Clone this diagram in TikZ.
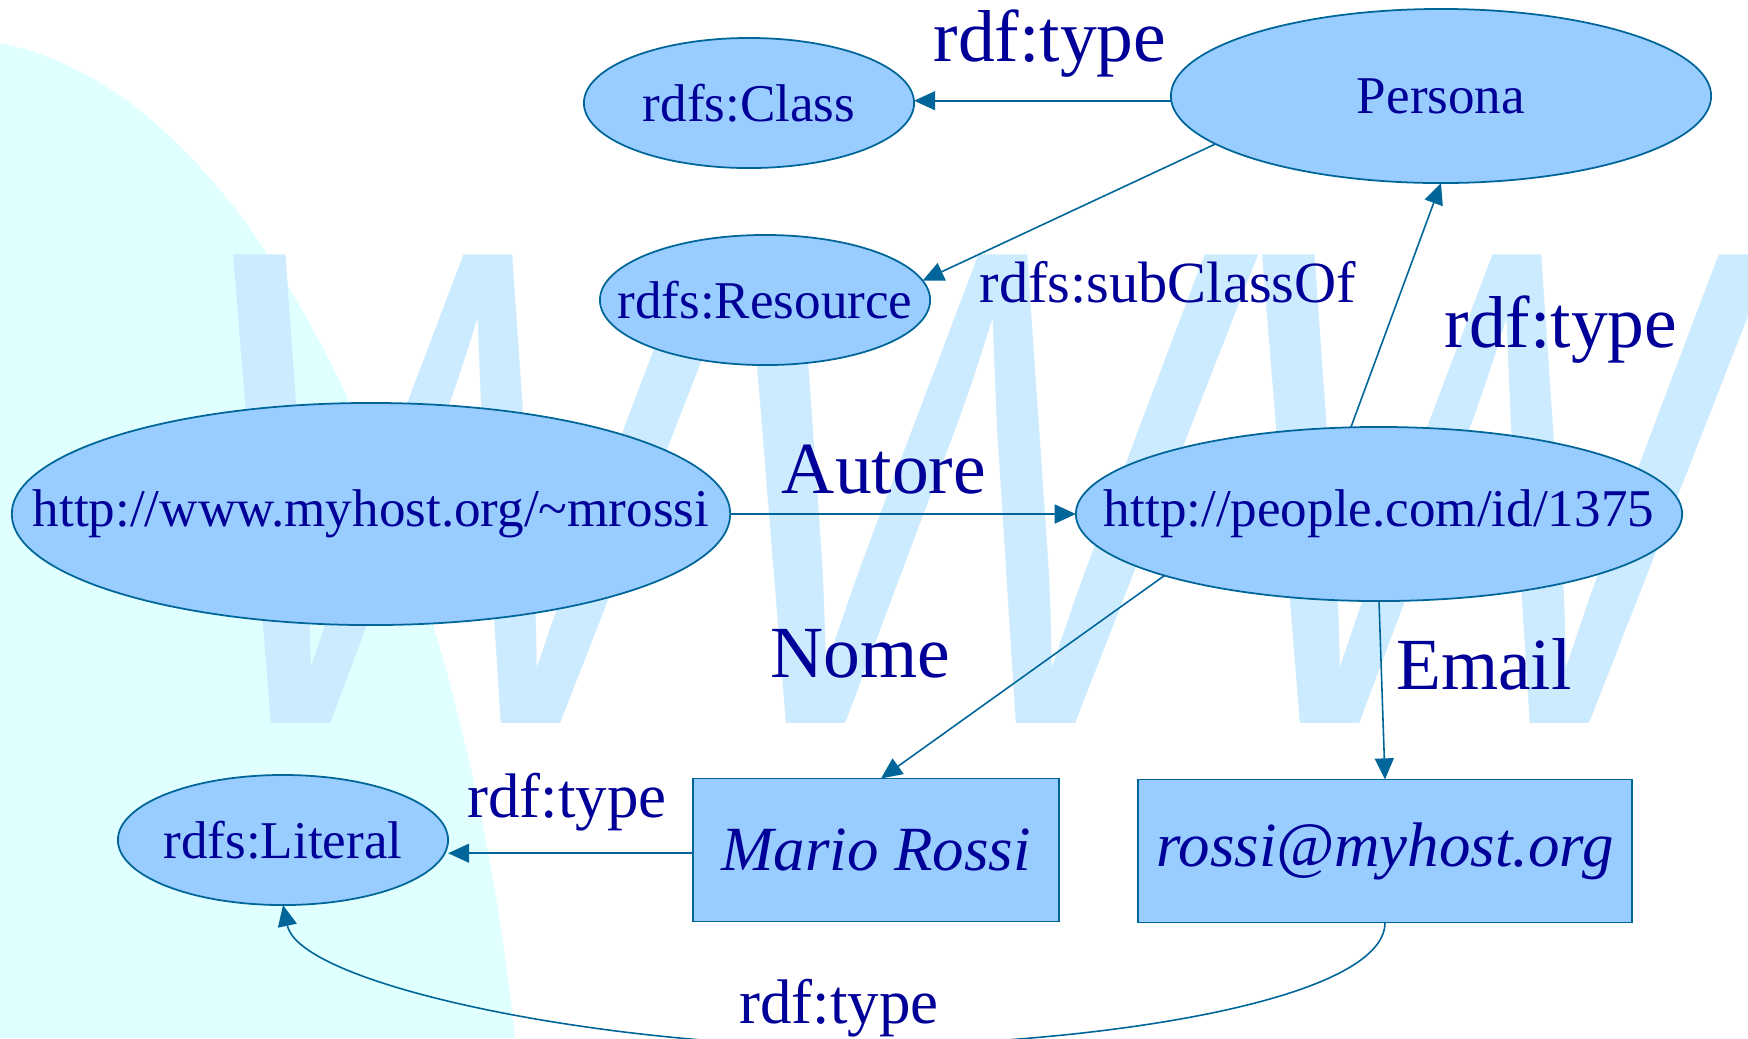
\documentclass[tikz,border=0pt]{standalone}
\usepackage{graphicx}
\usepackage{fontspec}
\setmainfont{Liberation Serif}
\newfontfamily\wmfont{Liberation Sans}
\usetikzlibrary{shapes.geometric,arrows.meta}
\definecolor{bgcyan}{HTML}{E0FFFF}
\definecolor{wmblue}{HTML}{CCEBFF}
\definecolor{nodefill}{HTML}{99CCFF}
\definecolor{edgecol}{HTML}{006699}
\definecolor{txtcol}{HTML}{000099}
\newcommand\fsz[1]{\fontsize{#1pt}{#1pt}\selectfont}
\newcommand\nobox[1]{\makebox[0pt]{#1}}
\begin{document}
\begin{tikzpicture}[x=0.01cm,y=-0.01cm,
  ell/.style={ellipse, draw=edgecol, fill=nodefill, line width=0.5pt, inner sep=0pt, outer sep=0pt, text=txtcol, font=\fsz{15.1}},
  rbox/.style={rectangle, draw=edgecol, fill=nodefill, line width=0.5pt, inner sep=0pt, outer sep=0pt, minimum height=1.43cm, text=txtcol, font=\fsz{17.9}\itshape},
  edge/.style={draw=edgecol, line width=0.45pt, -{Triangle[length=6pt,width=5.4pt]}},
  biglab/.style={text=txtcol, font=\fsz{20.9}, anchor=base, inner sep=0pt},
  midlab/.style={text=txtcol, font=\fsz{17.9}, anchor=base, inner sep=0pt},
  sublab/.style={text=txtcol, font=\fsz{16.6}, anchor=base, inner sep=0pt},
]
\useasboundingbox (0,0) rectangle (1748,1038);
\clip (0,0) rectangle (1748,1038);
\fill[white] (0,0) rectangle (1748,1038);
% background
\fill[bgcyan] (0,43) .. controls (285,100) and (470,600) .. (515,1038) -- (0,1038) -- cycle;
% watermark
\node[anchor=base west, inner sep=0pt, text=wmblue, font=\wmfont\itshape\fsz{193.7}] (wm) at (186,723) {\scalebox{0.80}[1]{WWW}};
% nodes
\node[ell, minimum width=3.3cm, minimum height=1.3cm] (class) at (749,103) {\nobox{rdfs:Class}};
\node[ell, minimum width=5.4cm, minimum height=1.74cm] (persona) at (1441,96) {\nobox{Persona}};
\node[ell, minimum width=3.3cm, minimum height=1.3cm] (resource) at (765,300) {\nobox{rdfs:Resource}};
\node[ell, minimum width=7.18cm, minimum height=2.22cm] (mrossi) at (371,514) {\nobox{http://www.myhost.org/\textasciitilde mrossi}};
\node[ell, minimum width=6.06cm, minimum height=1.74cm] (people) at (1379,514) {\nobox{http://people.com/id/1375}};
\node[ell, minimum width=3.3cm, minimum height=1.3cm] (literal) at (283,840) {\nobox{rdfs:Literal}};
\node[rbox, minimum width=3.66cm] (mario) at (876,850) {Mario Rossi};
\node[rbox, minimum width=4.94cm] (email) at (1385,851) {rossi@myhost.org};
% edges
\draw[edge] (persona.181.1) -- (persona.181.1 -| class.east);
\draw[edge] (persona.192.1) -- (resource.7.3);
\draw[edge] (people.108.4) -- (persona.south);
\draw[edge] (mrossi.east) -- (people.west);
\draw[edge] (people.196.3) -- (mario.86);
\draw[edge] (people.south) -- (email.north);
\draw[edge] (mario.181.3) -- (mario.181.3 -| literal.east);
\draw[edge] (email.south) .. controls (1385,1000) and (1100,1046) .. (842,1046) .. controls (600,1046) and (300,985) .. (literal.south);
% labels
\node[biglab] (lab1) at (1050,61) {rdf:type};
\node[sublab] (lab2) at (1168,302) {rdfs:subClassOf};
\node[biglab] (lab3) at (1561,347) {rdf:type};
\node[biglab] (lab4) at (884,493) {Autore};
\node[biglab] (lab5) at (860,677) {Nome};
\node[biglab] (lab6) at (1484,689) {Email};
\node[midlab] (lab7) at (567,817) {rdf:type};
\node[midlab] (lab8) at (839,1023) {rdf:type};
\end{tikzpicture}
\end{document}
